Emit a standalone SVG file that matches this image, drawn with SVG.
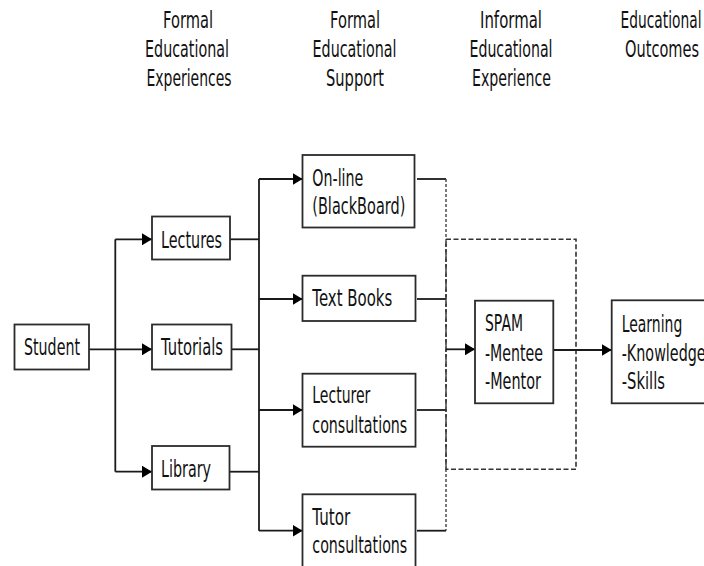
<svg xmlns="http://www.w3.org/2000/svg" width="704" height="566" viewBox="0 0 704 566">
  <style>
    .box { fill: #ffffff; stroke: #2b2b2b; stroke-width: 1.8; }
    .lbl { font-family: "DejaVu Sans", "Liberation Sans", sans-serif; font-size: 23px; fill: #111111; }
    .hdr { font-family: "DejaVu Sans", "Liberation Sans", sans-serif; font-size: 23px; fill: #111111; text-anchor: middle; }
    .wire { fill: none; stroke: #1a1a1a; stroke-width: 1.8; }
    .dot { fill: none; stroke: #333333; stroke-width: 1.3; stroke-dasharray: 3 2; }
    .dash { fill: none; stroke: #333333; stroke-width: 1.6; stroke-dasharray: 5 2.5; }
  </style>
  <defs>
    <marker id="arrow" markerUnits="userSpaceOnUse" markerWidth="10" markerHeight="12" refX="10" refY="6" orient="auto">
      <path d="M0,0 L10,6 L0,12 z" fill="#000000"/>
    </marker>
  </defs>

  <rect width="704" height="566" fill="#ffffff"/>

  <!-- column headings -->
  <g id="headings">
    <text class="hdr" x="188" y="27.5" textLength="50" lengthAdjust="spacingAndGlyphs">Formal</text>
    <text class="hdr" x="187" y="57" textLength="84" lengthAdjust="spacingAndGlyphs">Educational</text>
    <text class="hdr" x="189" y="85.5" textLength="85" lengthAdjust="spacingAndGlyphs">Experiences</text>

    <text class="hdr" x="355" y="27.5" textLength="50" lengthAdjust="spacingAndGlyphs">Formal</text>
    <text class="hdr" x="354.5" y="57" textLength="84" lengthAdjust="spacingAndGlyphs">Educational</text>
    <text class="hdr" x="355" y="85.5" textLength="58" lengthAdjust="spacingAndGlyphs">Support</text>

    <text class="hdr" x="511" y="27.5" textLength="62" lengthAdjust="spacingAndGlyphs">Informal</text>
    <text class="hdr" x="511" y="57" textLength="83" lengthAdjust="spacingAndGlyphs">Educational</text>
    <text class="hdr" x="511.5" y="85.5" textLength="79" lengthAdjust="spacingAndGlyphs">Experience</text>

    <text class="hdr" x="661" y="27.5" textLength="81" lengthAdjust="spacingAndGlyphs">Educational</text>
    <text class="hdr" x="662" y="57" textLength="74" lengthAdjust="spacingAndGlyphs">Outcomes</text>
  </g>

  <!-- connectors -->
  <g id="connectors">
    <!-- student fan-out -->
    <line class="wire" x1="89" y1="349.3" x2="152" y2="349.3" marker-end="url(#arrow)"/>
    <line class="wire" x1="115.3" y1="239.3" x2="115.3" y2="471.7"/>
    <line class="wire" x1="115.3" y1="239.3" x2="152" y2="239.3" marker-end="url(#arrow)"/>
    <line class="wire" x1="115.3" y1="471.7" x2="152" y2="471.7" marker-end="url(#arrow)"/>
    <!-- formal experiences to support bus -->
    <line class="wire" x1="230" y1="239.3" x2="259" y2="239.3"/>
    <line class="wire" x1="231.5" y1="349.3" x2="259" y2="349.3"/>
    <line class="wire" x1="229.5" y1="471.7" x2="259" y2="471.7"/>
    <line class="wire" x1="259" y1="179" x2="259" y2="530.7"/>
    <line class="wire" x1="259" y1="179" x2="302.5" y2="179" marker-end="url(#arrow)"/>
    <line class="wire" x1="259" y1="299" x2="302.5" y2="299" marker-end="url(#arrow)"/>
    <line class="wire" x1="259" y1="410" x2="302.5" y2="410" marker-end="url(#arrow)"/>
    <line class="wire" x1="259" y1="530.7" x2="302.5" y2="530.7" marker-end="url(#arrow)"/>
    <!-- support outputs -->
    <line class="wire" x1="417" y1="179" x2="446" y2="179"/>
    <line class="wire" x1="417" y1="299" x2="446" y2="299"/>
    <line class="wire" x1="417" y1="410" x2="446" y2="410"/>
    <line class="wire" x1="417" y1="530.7" x2="446" y2="530.7"/>
    <line class="dot" x1="446" y1="179" x2="446" y2="530.7"/>
    <!-- informal experience boundary -->
    <rect class="dash" x="446" y="239.3" width="130" height="230"/>
    <line class="wire" x1="446" y1="349.3" x2="475" y2="349.3" marker-end="url(#arrow)"/>
    <line class="wire" x1="553.3" y1="350" x2="611.7" y2="350" marker-end="url(#arrow)"/>
  </g>

  <g id="student">
    <rect class="box" x="14.5" y="324.5" width="74.5" height="45"/>
    <text class="lbl" x="24" y="355" textLength="56" lengthAdjust="spacingAndGlyphs">Student</text>
  </g>

  <g id="lectures">
    <rect class="box" x="152" y="216.5" width="78" height="43"/>
    <text class="lbl" x="161" y="247.7" textLength="61" lengthAdjust="spacingAndGlyphs">Lectures</text>
  </g>

  <g id="tutorials">
    <rect class="box" x="152" y="324.5" width="79.5" height="45"/>
    <text class="lbl" x="161" y="355" textLength="62" lengthAdjust="spacingAndGlyphs">Tutorials</text>
  </g>

  <g id="library">
    <rect class="box" x="152" y="446" width="77.5" height="43.5"/>
    <text class="lbl" x="161" y="476.7" textLength="50" lengthAdjust="spacingAndGlyphs">Library</text>
  </g>

  <g id="online">
    <rect class="box" x="302.5" y="155" width="112" height="72.5"/>
    <text class="lbl" x="312.3" y="186" textLength="51" lengthAdjust="spacingAndGlyphs">On-line</text>
    <text class="lbl" x="312.3" y="214" textLength="93" lengthAdjust="spacingAndGlyphs">(BlackBoard)</text>
  </g>

  <g id="textbooks">
    <rect class="box" x="302.5" y="275.7" width="113" height="45.3"/>
    <text class="lbl" x="312.3" y="305.7" textLength="80" lengthAdjust="spacingAndGlyphs">Text Books</text>
  </g>

  <g id="lecturer-consultations">
    <rect class="box" x="302.5" y="373.7" width="113" height="73"/>
    <text class="lbl" x="312.3" y="403.3" textLength="58" lengthAdjust="spacingAndGlyphs">Lecturer</text>
    <text class="lbl" x="312.3" y="433.3" textLength="95" lengthAdjust="spacingAndGlyphs">consultations</text>
  </g>

  <g id="tutor-consultations">
    <rect class="box" x="302.5" y="494.3" width="113" height="80"/>
    <text class="lbl" x="312.3" y="525" textLength="38" lengthAdjust="spacingAndGlyphs">Tutor</text>
    <text class="lbl" x="312.3" y="553.3" textLength="95" lengthAdjust="spacingAndGlyphs">consultations</text>
  </g>

  <g id="spam">
    <rect class="box" x="475" y="300.7" width="78.3" height="102.6"/>
    <text class="lbl" x="485" y="331" textLength="38" lengthAdjust="spacingAndGlyphs">SPAM</text>
    <text class="lbl" x="485" y="361" textLength="58" lengthAdjust="spacingAndGlyphs">-Mentee</text>
    <text class="lbl" x="485" y="389" textLength="56" lengthAdjust="spacingAndGlyphs">-Mentor</text>
  </g>

  <g id="learning">
    <rect class="box" x="611.7" y="300.3" width="110" height="103"/>
    <text class="lbl" x="621.7" y="331.7" textLength="60.6" lengthAdjust="spacingAndGlyphs">Learning</text>
    <text class="lbl" x="621.7" y="361" textLength="84" lengthAdjust="spacingAndGlyphs">-Knowledge</text>
    <text class="lbl" x="621.7" y="389" textLength="43.3" lengthAdjust="spacingAndGlyphs">-Skills</text>
  </g>
</svg>
